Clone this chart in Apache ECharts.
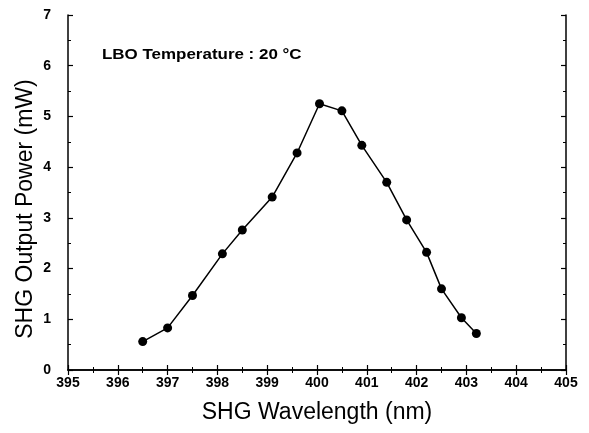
<!DOCTYPE html>
<html>
<head>
<meta charset="utf-8">
<script src="https://cdn.jsdelivr.net/npm/echarts@6/dist/echarts.min.js"></script>
<style>html,body{margin:0;padding:0;background:#fff}#c{width:589px;height:433px}</style>
</head>
<body>
<div id="c"></div>
<script>
const wavelength = [396.5, 397.0, 397.5, 398.1, 398.5, 399.1, 399.6, 400.05, 400.5, 400.9, 401.4, 401.8, 402.2, 402.5, 402.9, 403.2];
const power = [0.56, 0.83, 1.47, 2.29, 2.76, 3.41, 4.28, 5.25, 5.11, 4.43, 3.70, 2.96, 2.32, 1.60, 1.03, 0.72];
const xTicks = [395, 396, 397, 398, 399, 400, 401, 402, 403, 404, 405];
const yTicks = [0, 1, 2, 3, 4, 5, 6, 7];
const annotation = 'LBO Temperature : 20 \u00B0C';
const xTitle = 'SHG Wavelength (nm)';
const yTitle = 'SHG Output Power (mW)';

const font = '"Liberation Sans", Arial, sans-serif';
const chart = echarts.init(document.getElementById('c'), null, {renderer: 'canvas'});
const axisCommon = {
  type: 'value',
  axisLine: {show: true, lineStyle: {color: '#000', width: 1.5}},
  axisTick: {show: true, inside: true, length: 5, lineStyle: {color: '#000', width: 1.2}},
  minorTick: {show: true, splitNumber: 2, length: 3, lineStyle: {color: '#000', width: 1}},
  splitLine: {show: false},
  minorSplitLine: {show: false}
};
chart.setOption({
  animation: false,
  backgroundColor: '#fff',
  grid: {left: 68, right: 23, top: 15, bottom: 63},
  xAxis: [
    Object.assign({}, axisCommon, {
      position: 'bottom', min: xTicks[0], max: xTicks[xTicks.length - 1], interval: 1,
      axisLabel: {color: '#000', fontSize: 14, fontWeight: 'bold', fontFamily: font, margin: 6},
      name: xTitle, nameLocation: 'middle', nameGap: 31,
      nameTextStyle: {color: '#000', fontSize: 23, fontFamily: font, verticalAlign: 'top'}
    }),
    Object.assign({}, axisCommon, {
      position: 'top', min: xTicks[0], max: xTicks[xTicks.length - 1], interval: 1,
      axisLabel: {show: false}
    })
  ],
  yAxis: [
    Object.assign({}, axisCommon, {
      position: 'left', min: yTicks[0], max: yTicks[yTicks.length - 1], interval: 1,
      axisLabel: {color: '#000', fontSize: 14, fontWeight: 'bold', fontFamily: font, margin: 17}
    }),
    Object.assign({}, axisCommon, {
      position: 'right', min: yTicks[0], max: yTicks[yTicks.length - 1], interval: 1,
      axisLabel: {show: false}
    })
  ],
  graphic: [{
    type: 'text', x: 102, y: 55, scaleX: 1.13,
    style: {text: annotation, fill: '#000', font: 'bold 15px ' + font, verticalAlign: 'middle', textAlign: 'left'}
  }, {
    type: 'text', x: 26, y: 209, rotation: Math.PI / 2,
    style: {text: yTitle, fill: '#000', font: '23px ' + font, verticalAlign: 'middle', textAlign: 'center'}
  }],
  series: [{
    type: 'line',
    data: wavelength.map((w, i) => [w, power[i]]),
    xAxisIndex: 0, yAxisIndex: 0,
    symbol: 'circle', symbolSize: 9,
    itemStyle: {color: '#000'},
    lineStyle: {color: '#000', width: 1.5}
  }]
});
</script>
</body>
</html>
